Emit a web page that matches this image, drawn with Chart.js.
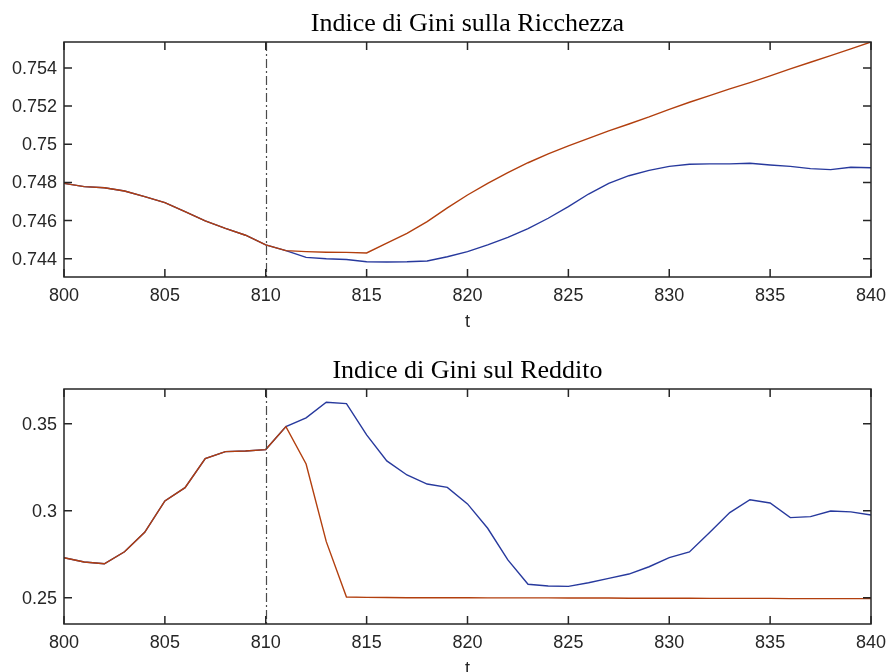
<!DOCTYPE html>
<html>
<head>
<meta charset="utf-8">
<script src="https://cdn.jsdelivr.net/npm/chart.js@4.4.1/dist/chart.umd.min.js"></script>
<style>
  html, body { margin: 0; padding: 0; background: #fff; }
  #wrap { position: relative; width: 888px; height: 672px; overflow: hidden; }
  canvas { position: absolute; left: 0; }
</style>
</head>
<body>
<div id="wrap">
  <canvas id="wealthChart" width="888" height="336" style="top:0"></canvas>
  <canvas id="incomeChart" width="888" height="336" style="top:336px"></canvas>
</div>
<script>
// time axis
const tValues = [800, 801, 802, 803, 804, 805, 806, 807, 808, 809, 810,
                 811, 812, 813, 814, 815, 816, 817, 818, 819, 820,
                 821, 822, 823, 824, 825, 826, 827, 828, 829, 830,
                 831, 832, 833, 834, 835, 836, 837, 838, 839, 840];
const shockT = 810;
const xTicks = [800, 805, 810, 815, 820, 825, 830, 835, 840];
const xLabel = 't';

// Gini on wealth
const wealthBlue = [0.74795, 0.74778, 0.74772, 0.74755, 0.74725, 0.74694, 0.74647, 0.74598, 0.74559, 0.74523, 0.74472,
                    0.74442, 0.74407, 0.74400, 0.74396, 0.74384, 0.74383, 0.74384, 0.74388, 0.74410, 0.74437,
                    0.74472, 0.74512, 0.74557, 0.74612, 0.74673, 0.74739, 0.74795, 0.74835, 0.74863, 0.74884,
                    0.74895, 0.74897, 0.74897, 0.74900, 0.74891, 0.74884, 0.74872, 0.74867, 0.74879, 0.74877];
const wealthRed = [0.74795, 0.74778, 0.74772, 0.74755, 0.74725, 0.74694, 0.74647, 0.74598, 0.74559, 0.74523, 0.74472,
                   0.74442, 0.74437, 0.74434, 0.74433, 0.74430, 0.74481, 0.74533, 0.74594, 0.74666, 0.74734,
                   0.74795, 0.74851, 0.74903, 0.74949, 0.74991, 0.75031, 0.75070, 0.75106, 0.75143, 0.75183,
                   0.75220, 0.75255, 0.75290, 0.75323, 0.75358, 0.75395, 0.75430, 0.75465, 0.75500, 0.75536];
const wealthRange = [0.74304, 0.75536];
const wealthTicks = [0.744, 0.746, 0.748, 0.75, 0.752, 0.754];
const wealthTickLabels = ['0.744', '0.746', '0.748', '0.75', '0.752', '0.754'];

// Gini on income
const incomeBlue = [0.2730, 0.2705, 0.2695, 0.2764, 0.2876, 0.3056, 0.3132, 0.3299, 0.3339, 0.3343, 0.3351,
                    0.3483, 0.3533, 0.3623, 0.3615, 0.3435, 0.3286, 0.3205, 0.3153, 0.3134, 0.3039,
                    0.2899, 0.2717, 0.2577, 0.2567, 0.2565, 0.2586, 0.2611, 0.2636, 0.2678, 0.2730,
                    0.2763, 0.2874, 0.2989, 0.3063, 0.3044, 0.2960, 0.2966, 0.2998, 0.2993, 0.2975];
const incomeRed = [0.2730, 0.2705, 0.2695, 0.2764, 0.2876, 0.3056, 0.3132, 0.3299, 0.3339, 0.3343, 0.3351,
                   0.3483, 0.3268, 0.2822, 0.2504, 0.2502, 0.2501, 0.2500, 0.2500, 0.2500, 0.2500,
                   0.2499, 0.2499, 0.2499, 0.2499, 0.2498, 0.2498, 0.2498, 0.2497, 0.2497, 0.2497,
                   0.2497, 0.2496, 0.2496, 0.2496, 0.2496, 0.2495, 0.2495, 0.2495, 0.2495, 0.2495];
const incomeRange = [0.2349, 0.3699];
const incomeTicks = [0.25, 0.3, 0.35];
const incomeTickLabels = ['0.25', '0.3', '0.35'];

const BLUE = '#27399d';
const RED = '#b23f0e';
const AXIS = '#262626';
const TICK_FONT = '18px "Liberation Sans", Arial, sans-serif';

// box, inward ticks, tick labels, dash-dot marker and serif title
const framePlugin = {
    id: 'frame',
    afterDatasetsDraw(chart, args, opts) {
        const ctx = chart.ctx;
        const a = chart.chartArea;
        const xs = chart.scales.x, ys = chart.scales.y;
        const tl = 8;
        ctx.save();

        // vertical dash-dot line at the shock
        const vx = Math.round(xs.getPixelForValue(shockT)) + 0.5;
        ctx.strokeStyle = '#4a4a4a';
        ctx.lineWidth = 1.2;
        ctx.setLineDash([9, 3, 2, 3]);
        ctx.beginPath();
        ctx.moveTo(vx, a.top);
        ctx.lineTo(vx, a.bottom);
        ctx.stroke();
        ctx.setLineDash([]);

        // axes box + inward ticks on all sides
        ctx.strokeStyle = AXIS;
        ctx.lineWidth = 1.5;
        ctx.strokeRect(a.left, a.top, a.right - a.left, a.bottom - a.top);
        ctx.beginPath();
        xTicks.forEach(v => {
            const px = xs.getPixelForValue(v);
            ctx.moveTo(px, a.bottom); ctx.lineTo(px, a.bottom - tl);
            ctx.moveTo(px, a.top); ctx.lineTo(px, a.top + tl);
        });
        opts.yTicks.forEach(v => {
            const py = ys.getPixelForValue(v);
            ctx.moveTo(a.left, py); ctx.lineTo(a.left + tl, py);
            ctx.moveTo(a.right, py); ctx.lineTo(a.right - tl, py);
        });
        ctx.stroke();

        // tick labels
        ctx.fillStyle = AXIS;
        ctx.font = TICK_FONT;
        ctx.textAlign = 'center';
        ctx.textBaseline = 'alphabetic';
        xTicks.forEach(v => {
            ctx.fillText(String(v), xs.getPixelForValue(v), a.bottom + 23.5);
        });
        ctx.fillText(xLabel, (a.left + a.right) / 2, a.bottom + 50);
        ctx.textAlign = 'right';
        ctx.textBaseline = 'middle';
        opts.yTicks.forEach((v, i) => {
            ctx.fillText(opts.yLabels[i], a.left - 7, ys.getPixelForValue(v) + 1);
        });

        // title
        ctx.fillStyle = '#000';
        ctx.font = '26px "Liberation Serif", "Times New Roman", serif';
        ctx.textAlign = 'center';
        ctx.textBaseline = 'alphabetic';
        ctx.fillText(opts.title, (a.left + a.right) / 2, a.top - 11);
        ctx.restore();
    }
};

function makeChart(id, title, blue, red, range, yTicks, yLabels, topPad, xAxisHeight) {
    const ctx = document.getElementById(id).getContext('2d');
    return new Chart(ctx, {
        type: 'line',
        data: {
            datasets: [
                {
                    data: tValues.map((t, i) => ({ x: t, y: red[i] })),
                    borderColor: RED,
                    borderWidth: 1.4,
                    pointRadius: 0,
                    tension: 0
                },
                {
                    data: tValues.map((t, i) => ({ x: t, y: blue[i] })),
                    borderColor: BLUE,
                    borderWidth: 1.4,
                    pointRadius: 0,
                    tension: 0
                }
            ]
        },
        options: {
            responsive: false,
            animation: false,
            devicePixelRatio: 1,
            layout: { padding: { left: 0, right: 17, top: topPad, bottom: 0 } },
            plugins: {
                legend: { display: false },
                tooltip: { enabled: false },
                frame: { title: title, yTicks: yTicks, yLabels: yLabels }
            },
            scales: {
                x: {
                    type: 'linear',
                    min: 800,
                    max: 840,
                    grid: { display: false },
                    border: { display: false },
                    ticks: { display: false },
                    afterFit: s => { s.height = xAxisHeight; }
                },
                y: {
                    min: range[0],
                    max: range[1],
                    grid: { display: false },
                    border: { display: false },
                    ticks: { display: false },
                    afterFit: s => { s.width = 64; }
                }
            }
        },
        plugins: [framePlugin]
    });
}

makeChart('wealthChart', 'Indice di Gini sulla Ricchezza', wealthBlue, wealthRed,
          wealthRange, wealthTicks, wealthTickLabels, 42, 59);
makeChart('incomeChart', 'Indice di Gini sul Reddito', incomeBlue, incomeRed,
          incomeRange, incomeTicks, incomeTickLabels, 53, 48);
</script>
</body>
</html>
